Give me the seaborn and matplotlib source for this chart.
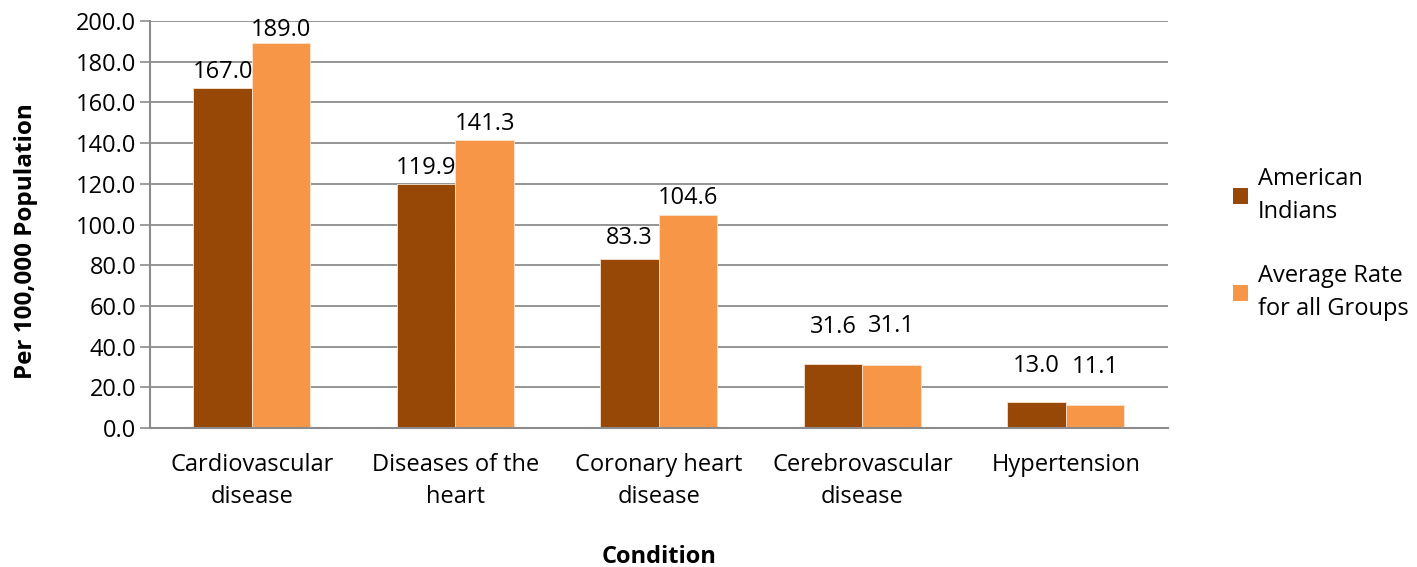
import numpy as np
import pandas as pd
import matplotlib; matplotlib.use("Agg")
import matplotlib.pyplot as plt
import seaborn as sns
from matplotlib.patches import Patch

# ── data ──────────────────────────────────────────────────────────────────────
conditions = ["Cardiovascular\ndisease", "Diseases of the\nheart",
              "Coronary heart\ndisease", "Cerebrovascular\ndisease",
              "Hypertension"]
series = ["American\nIndians", "Average Rate\nfor all Groups"]
american_indians = [167.0, 119.9, 83.3, 31.6, 13.0]
average_rate = [189.0, 141.3, 104.6, 31.1, 11.1]
y_ticks = np.arange(0, 201, 20)

# ── style ─────────────────────────────────────────────────────────────────────
BROWN = "#974706"
ORANGE = "#F79646"
GRID = "#8C8C8C"
FS = 17
# points above the bar top for each value label
pad_ai = [3, 3, 6, 18, 17]
pad_ar = [1, 3, 4, 19, 19]

sns.set_theme(style="white")
plt.rcParams["font.family"] = ["Open Sans", "DejaVu Sans"]
plt.rcParams["text.color"] = "black"

df = pd.DataFrame({
    "Condition": conditions * 2,
    "Series": [series[0]] * 5 + [series[1]] * 5,
    "Value": american_indians + average_rate,
})

fig, ax = plt.subplots(figsize=(14.17, 5.67), dpi=100)
fig.subplots_adjust(left=0.106, right=0.824, top=0.963, bottom=0.245)

sns.barplot(data=df, x="Condition", y="Value", hue="Series",
            palette=[BROWN, ORANGE], width=0.575, saturation=1,
            edgecolor="#FBE3CF", linewidth=0.6, legend=False, ax=ax)

for cont, vals, pads in zip(ax.containers, [american_indians, average_rate],
                            [pad_ai, pad_ar]):
    for bar, v, pad in zip(cont, vals, pads):
        ax.annotate(f"{v:.1f}", (bar.get_x() + bar.get_width() / 2, v),
                    xytext=(0, pad), textcoords="offset points",
                    ha="center", va="bottom", fontsize=FS, color="black")

ax.set_ylim(0, 200)
ax.set_yticks(y_ticks)
ax.set_yticklabels([f"{t:.1f}" for t in y_ticks], fontsize=FS)
for lab in ax.get_xticklabels():
    lab.set_linespacing(1.45)
ax.tick_params(axis="x", labelsize=FS, length=0, pad=18, labelcolor="black")
ax.tick_params(axis="y", length=7, width=1.2, color=GRID, direction="out",
               left=True, pad=3, labelcolor="black")
ax.yaxis.grid(True, color=GRID, linewidth=1.3)
ax.set_axisbelow(True)
for s in ["top", "right"]:
    ax.spines[s].set_visible(False)
for s in ["left", "bottom"]:
    ax.spines[s].set_color(GRID)
    ax.spines[s].set_linewidth(1.5)

ax.set_xlabel("Condition", fontsize=FS, fontweight="bold", labelpad=26,
              color="black")
ax.set_ylabel("Per 100,000 Population", fontsize=17.5, fontweight="bold",
              color="black")
ax.yaxis.set_label_coords(-0.122, 0.46)
ax.yaxis.label.set_verticalalignment("center")

handles = [Patch(facecolor=c, edgecolor="none") for c in [BROWN, ORANGE]]
leg = fig.legend(handles, series, loc="center left",
                 bbox_to_anchor=(0.855, 0.57), frameon=False, fontsize=FS,
                 handlelength=0.65, handleheight=0.65, handletextpad=0.4,
                 labelspacing=1.7)
for t in leg.get_texts():
    t.set_linespacing(1.5)
    t.set_color("black")

plt.savefig("out.png", dpi=100)
plt.close()
